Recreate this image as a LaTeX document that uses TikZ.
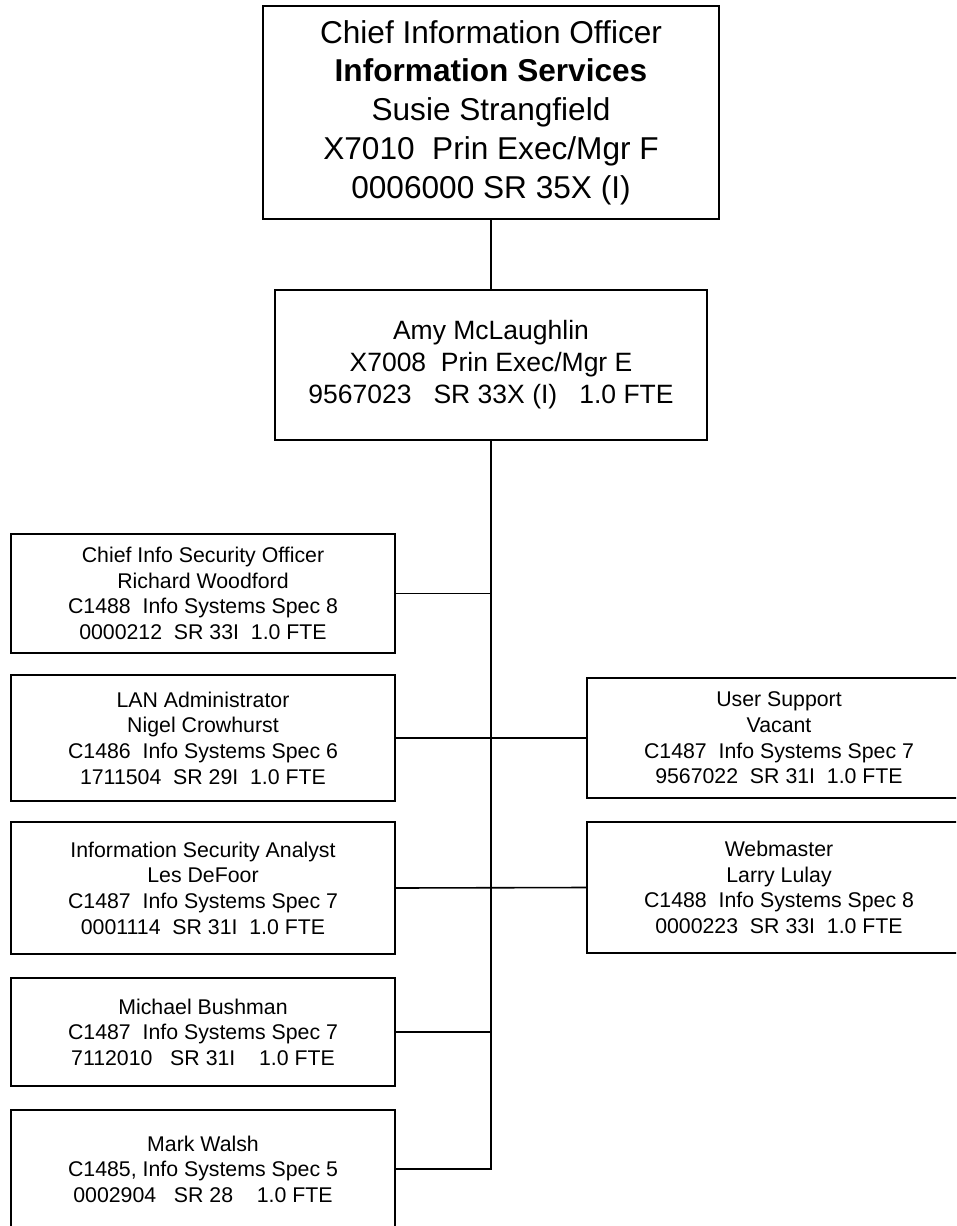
\documentclass[tikz,border=0pt]{standalone}
\usepackage{fontspec}
\setmainfont{Liberation Sans}
\begin{document}
\begin{tikzpicture}[x=1pt,y=-1pt,
  box/.style={draw=black,line width=1.6pt,rectangle,inner sep=0pt,align=center},
  big/.style={box,font=\fontsize{31.6}{38.7}\selectfont},
  mid/.style={box,font=\fontsize{26.5}{32}\selectfont},
  small/.style={box,font=\fontsize{21.3}{25.6}\selectfont,minimum width=384pt},
  link/.style={draw=black,line width=1.6pt}]
\path[use as bounding box,clip] (0,0) rectangle (956,1226);
\fill[white] (0,0) rectangle (956,1226);

\node[big,minimum width=456pt,minimum height=213pt] (cio) at (491,112.5)
 {Chief Information Officer\\\textbf{Information Services}\\Susie Strangfield\\X7010\ \ Prin Exec/Mgr F\\0006000 SR 35X (I)};
\node[mid,minimum width=432pt,minimum height=150pt] (amy) at (491,365)
 {Amy McLaughlin\\X7008\ \ Prin Exec/Mgr E\\9567023\ \ \ SR 33X (I)\ \ \ 1.0 FTE};

\node[small,minimum height=119pt] (l1) at (203,593.5)
 {Chief Info Security Officer\\Richard Woodford\\C1488\ \ Info Systems Spec 8\\0000212\ \ SR 33I\ \ 1.0 FTE};
\node[small,minimum height=126pt] (l2) at (203,738)
 {LAN Administrator\\Nigel Crowhurst\\C1486\ \ Info Systems Spec 6\\1711504\ \ SR 29I\ \ 1.0 FTE};
\node[small,minimum height=132pt] (l3) at (203,888)
 {Information Security Analyst\\Les DeFoor\\C1487\ \ Info Systems Spec 7\\0001114\ \ SR 31I\ \ 1.0 FTE};
\node[small,minimum height=108pt] (l4) at (203,1032)
 {Michael Bushman\\C1487\ \ Info Systems Spec 7\\7112010\ \ \ SR 31I\ \ \ \ 1.0 FTE};
\node[small,minimum height=118pt] (l5) at (203,1169)
 {Mark Walsh\\C1485, Info Systems Spec 5\\0002904\ \ \ SR 28\ \ \ \ 1.0 FTE};

\node[small,minimum height=120pt] (r1) at (779,738)
 {User Support\\Vacant\\C1487\ \ Info Systems Spec 7\\9567022\ \ SR 31I\ \ 1.0 FTE};
\node[small,minimum height=131pt] (r2) at (779,887.5)
 {Webmaster\\Larry Lulay\\C1488\ \ Info Systems Spec 8\\0000223\ \ SR 33I\ \ 1.0 FTE};

\draw[link] (cio.south) -- (amy.north);
\draw[link] (amy.south) |- (l5.east);
\draw[link] (l1.east) -- (l1.east -| amy.south);
\draw[link] (l2.east) -- (r1.west);
\draw[link] (l3.east) -- (r2.west);
\draw[link] (l4.east) -- (l4.east -| amy.south);
\end{tikzpicture}
\end{document}
